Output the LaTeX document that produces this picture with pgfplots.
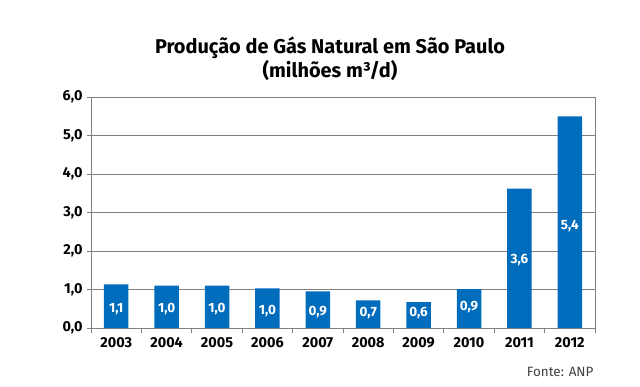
\documentclass[border=0pt]{standalone}
\usepackage{fontspec}
\setmainfont{Fira Sans}
\usepackage{pgfplots}
\pgfplotsset{compat=1.18}
\definecolor{barblue}{RGB}{0,108,188}
\definecolor{gridgray}{RGB}{128,128,128}
\begin{document}
\begin{tikzpicture}
\path[use as bounding box] (-91bp,-59bp) rectangle (549bp,328bp);
\begin{axis}[
  at={(0,0)}, anchor=south west,
  scale only axis, width=504bp, height=231bp,
  xmin=-0.5, xmax=9.5, ymin=0, ymax=6,
  xtick={0,...,9},
  xticklabels={2003,2004,2005,2006,2007,2008,2009,2010,2011,2012},
  minor xtick={-0.5,0.5,...,9.5},
  ytick={0,1,...,6},
  yticklabel={\pgfmathprintnumber[fixed,fixed zerofill,precision=1,use comma]{\tick}},
  /pgf/number format/assume math mode=true,
  ymajorgrids, major grid style={gridgray, line width=0.8pt},
  axis line style={gridgray, line width=0.8pt},
  tick style={gridgray, line width=0.8pt},
  major x tick style={draw=none},
  minor tick length=5bp,
  major tick length=4bp,
  tick align=outside,
  xtick pos=bottom, ytick pos=left,
  ticklabel style={font=\bfseries\fontsize{14.5}{16}\selectfont, text=black},
  xticklabel style={yshift=-2bp},
  yticklabel style={xshift=-1bp},
  axis on top=false,
]
\addplot[ybar, bar width=24.5bp, fill=barblue, draw=none] coordinates {
  (0,1.13) (1,1.10) (2,1.10) (3,1.03) (4,0.95)
  (5,0.72) (6,0.67) (7,1.01) (8,3.62) (9,5.50)
};
\addplot[only marks, mark=none, point meta=explicit symbolic,
  nodes near coords,
  every node near coord/.style={anchor=center, text=white,
    font=\bfseries\fontsize{13.5}{15}\selectfont}]
  coordinates {
  (0,0.50)[1,1] (1,0.48)[1,0] (2,0.48)[1,0] (3,0.45)[1,0] (4,0.42)[0,9]
  (5,0.38)[0,7] (6,0.38)[0,6] (7,0.55)[0,9] (8,1.76)[3,6] (9,2.64)[5,4]
};
\end{axis}
\node[font=\fontsize{20}{24}\selectfont\bfseries, anchor=base] at (239bp,274bp)
  {Produção de Gás Natural em São Paulo};
\node[font=\fontsize{20}{24}\selectfont\bfseries, anchor=base] at (239bp,250bp)
  {(milhões m³/d)};
\node[font=\fontsize{13.5}{16}\selectfont, text=black!75, anchor=base east] at (506bp,-48bp) {Fonte: ANP};
\end{tikzpicture}
\end{document}
